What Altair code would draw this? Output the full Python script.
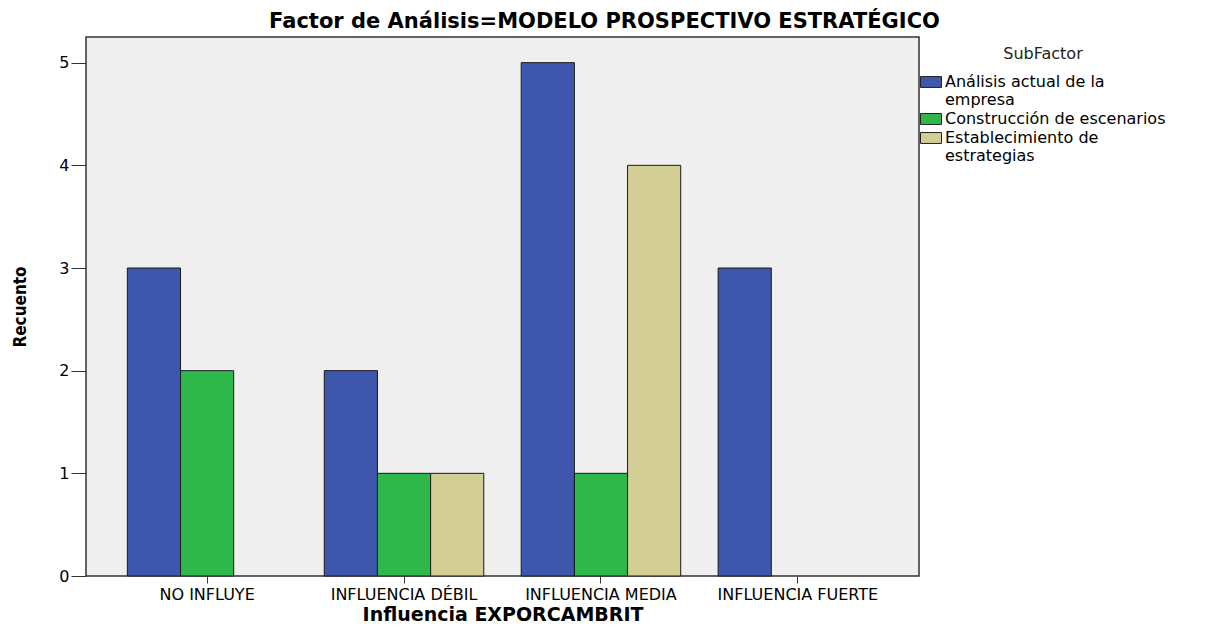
import altair as alt
import pandas as pd

categories = ["NO INFLUYE", "INFLUENCIA DÉBIL", "INFLUENCIA MEDIA", "INFLUENCIA FUERTE"]
subfactors = ["Análisis actual de la empresa", "Construcción de escenarios", "Establecimiento de estrategias"]
colors = ["#3E57AC", "#2EB84B", "#D3CD96"]

bar_cat = ["NO INFLUYE", "NO INFLUYE",
           "INFLUENCIA DÉBIL", "INFLUENCIA DÉBIL", "INFLUENCIA DÉBIL",
           "INFLUENCIA MEDIA", "INFLUENCIA MEDIA", "INFLUENCIA MEDIA",
           "INFLUENCIA FUERTE"]
bar_sub = [subfactors[0], subfactors[1],
           subfactors[0], subfactors[1], subfactors[2],
           subfactors[0], subfactors[1], subfactors[2],
           subfactors[0]]
counts = [3, 2, 2, 1, 1, 5, 1, 4, 3]

df = pd.DataFrame({"Influencia": bar_cat, "SubFactor": bar_sub, "Recuento": counts})

font = "DejaVu Sans"

label_expr = ("datum.label == 'Análisis actual de la empresa' ? ['Análisis actual de la', 'empresa'] : "
              "datum.label == 'Establecimiento de estrategias' ? ['Establecimiento de', 'estrategias'] : datum.label")

chart = alt.Chart(df).mark_bar(stroke="#1a1a1a", strokeWidth=1).encode(
    x=alt.X("Influencia:N", sort=categories,
            scale=alt.Scale(domain=categories, paddingInner=0.19, paddingOuter=0.21),
            axis=alt.Axis(title="Influencia EXPORCAMBRIT", labelAngle=0, labelFont=font,
                          labelFontSize=16, labelColor="#000", titleFont=font, titleFontSize=19,
                          titleFontWeight="bold", titleColor="#000", tickColor="#333",
                          tickSize=7, domain=False, labelPadding=3, titlePadding=3)),
    xOffset=alt.XOffset("SubFactor:N", scale=alt.Scale(domain=subfactors, paddingInner=0, paddingOuter=0)),
    y=alt.Y("Recuento:Q", scale=alt.Scale(domain=[0, 5.25], nice=False),
            axis=alt.Axis(title="Recuento", values=[0, 1, 2, 3, 4, 5], format="d", grid=False,
                          labelFont=font, labelFontSize=16, labelColor="#000",
                          titleFont="DejaVu Sans Condensed", titleFontSize=17, titleFontWeight="bold",
                          titleColor="#000", tickColor="#333", tickSize=15, domain=False,
                          titlePadding=29, labelPadding=2)),
    color=alt.Color("SubFactor:N", scale=alt.Scale(domain=subfactors, range=colors),
                    legend=alt.Legend(title="SubFactor", orient="none", legendX=834, legendY=9,
                                      titleFont=font, titleFontSize=16, titleFontWeight="normal",
                                      titleColor="#222", titleAnchor="middle", titlePadding=9,
                                      labelFont=font, labelFontSize=16, labelColor="#000",
                                      labelLimit=400,
                                      labelExpr=label_expr,
                                      symbolType="M-1,-0.52L1,-0.52L1,0.52L-1,0.52Z", symbolSize=441,
                                      symbolStrokeColor="#222", symbolStrokeWidth=1, rowPadding=-3,
                                      labelOffset=3, labelBaseline="middle")),
).properties(
    width=833, height=539,
    title=alt.TitleParams("Factor de Análisis=MODELO PROSPECTIVO ESTRATÉGICO", font=font, fontSize=21,
                          fontWeight="bold", color="#000", anchor="middle", offset=5, dx=102),
    autosize=alt.AutoSizeParams(type="none"),
    padding={"left": 78, "top": 29, "right": 300, "bottom": 50},
).configure_view(fill="#EFEFEF", stroke="#333", strokeWidth=1.5)

chart.save("out.html", embed_options={"renderer": "svg", "actions": False})
